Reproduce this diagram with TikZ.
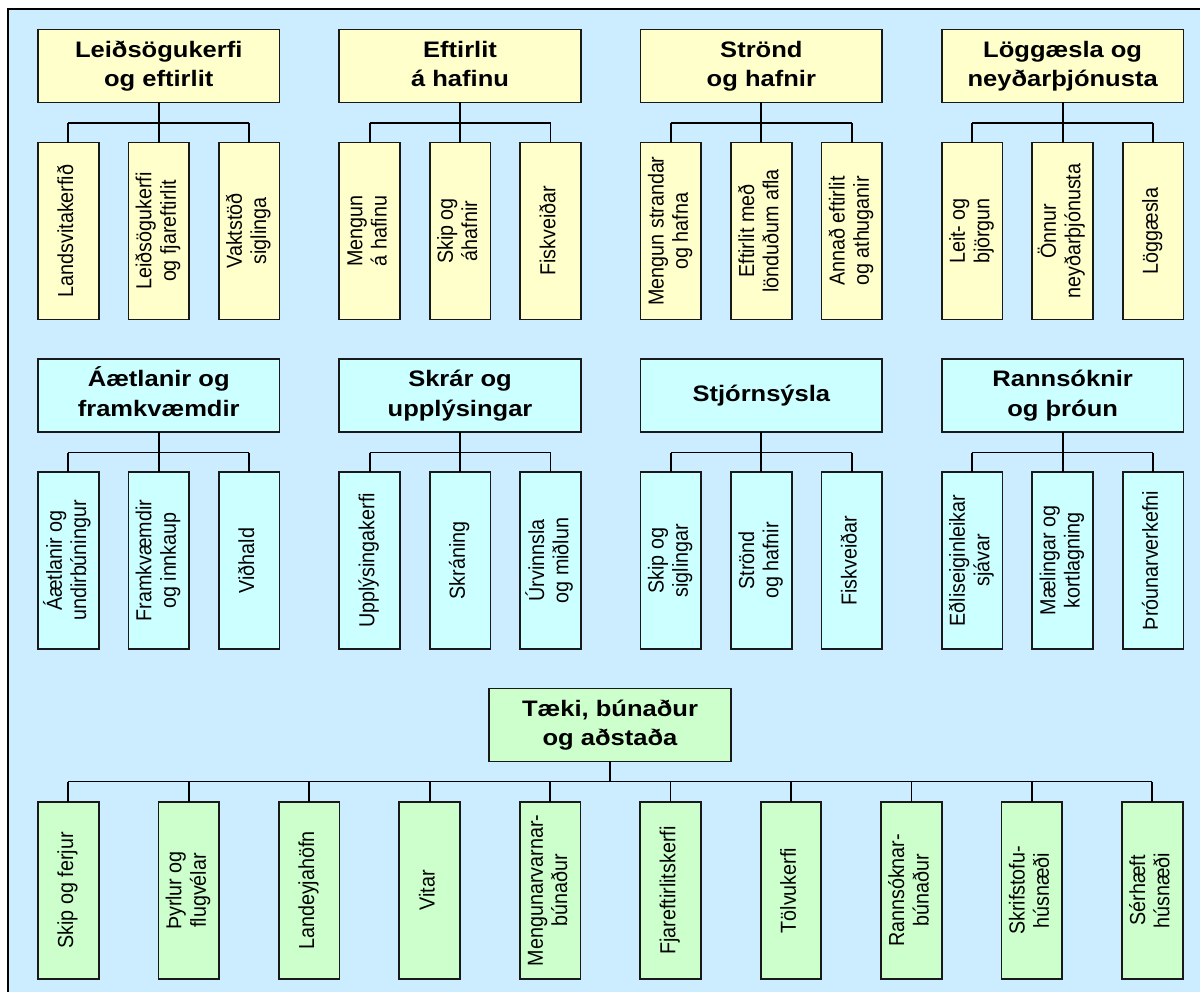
\documentclass[tikz,border=0pt]{standalone}
\usepackage{fontspec}
\setmainfont{Liberation Sans}
\usepackage{graphicx}

\definecolor{sea}{HTML}{CCECFF}
\definecolor{sand}{HTML}{FFFFCC}
\definecolor{ice}{HTML}{CCFFFF}
\definecolor{mint}{HTML}{CCFFCC}

% bold heading text, two centred lines, slightly widened
\newcommand\hd[1]{\scalebox{1.14}[1]{\fontsize{16.8}{22}\selectfont\bfseries\begin{tabular}{@{}c@{}}#1\end{tabular}}}
% leaf text turned to run bottom to top
\newcommand\vt[1]{\scalebox{1.1}[1]{\rotatebox{90}{\fontsize{14.8}{16.6}\selectfont\begin{tabular}{@{}c@{}}#1\end{tabular}}}}

\tikzset{
  box/.style={draw=black!90, line width=1.3pt, inner sep=0pt, outer sep=0pt},
  head/.style={box, minimum width=181.2pt, minimum height=54.6pt},
  leaf/.style={box, minimum width=45.5pt, minimum height=132.6pt},
  link/.style={line width=1.35pt, black},
}

\begin{document}
\begin{tikzpicture}[x=0.75pt, y=-0.75pt]
\useasboundingbox (0,0) rectangle (1200,992);
% backdrop with its frame on the left and top
\fill[sea] (8,9) rectangle (1200,992);
\draw[line width=1.5pt] (8,992) -- (8,9) -- (1200,9);

% ---------- first row ----------
\node[head, fill=sand] (h1) at (158.75,66) {\hd{Leiðsögukerfi\\og eftirlit}};
\node[leaf, fill=sand] (h1a) at (68.3,231)   {\vt{Landsvitakerfið}};
\node[leaf, fill=sand] (h1b) at (158.75,231) {\vt{Leiðsögukerfi\\og fjareftirlit}};
\node[leaf, fill=sand] (h1c) at (249.2,231)  {\vt{Vaktstöð\\siglinga}};

\node[head, fill=sand] (h2) at (460.05,66) {\hd{Eftirlit\\á hafinu}};
\node[leaf, fill=sand] (h2a) at (369.6,231)  {\vt{Mengun\\á hafinu}};
\node[leaf, fill=sand] (h2b) at (460.05,231) {\vt{Skip og\\áhafnir}};
\node[leaf, fill=sand] (h2c) at (550.5,231)  {\vt{Fiskveiðar}};

\node[head, fill=sand] (h3) at (761.35,66) {\hd{Strönd\\og hafnir}};
\node[leaf, fill=sand] (h3a) at (670.9,231)  {\vt{Mengun strandar\\og hafna}};
\node[leaf, fill=sand] (h3b) at (761.35,231) {\vt{Eftirlit með\\lönduðum afla}};
\node[leaf, fill=sand] (h3c) at (851.8,231)  {\vt{Annað eftirlit\\og athuganir}};

\node[head, fill=sand] (h4) at (1062.65,66) {\hd{Löggæsla og\\neyðarþjónusta}};
\node[leaf, fill=sand] (h4a) at (972.2,231)   {\vt{Leit- og\\björgun}};
\node[leaf, fill=sand] (h4b) at (1062.65,231) {\vt{Önnur\\neyðarþjónusta}};
\node[leaf, fill=sand] (h4c) at (1153.1,231)  {\vt{Löggæsla}};

% ---------- second row ----------
\node[head, fill=ice] (k1) at (158.75,395.5) {\hd{Áætlanir og\\framkvæmdir}};
\node[leaf, fill=ice] (k1a) at (68.3,560.5)   {\vt{Áætlanir og\\undirbúningur}};
\node[leaf, fill=ice] (k1b) at (158.75,560.5) {\vt{Framkvæmdir\\og innkaup}};
\node[leaf, fill=ice] (k1c) at (249.2,560.5)  {\vt{Viðhald}};

\node[head, fill=ice] (k2) at (460.05,395.5) {\hd{Skrár og\\upplýsingar}};
\node[leaf, fill=ice] (k2a) at (369.6,560.5)  {\vt{Upplýsingakerfi}};
\node[leaf, fill=ice] (k2b) at (460.05,560.5) {\vt{Skráning}};
\node[leaf, fill=ice] (k2c) at (550.5,560.5)  {\vt{Úrvinnsla\\og miðlun}};

\node[head, fill=ice] (k3) at (761.35,395.5) {\hd{Stjórnsýsla}};
\node[leaf, fill=ice] (k3a) at (670.9,560.5)  {\vt{Skip og\\siglingar}};
\node[leaf, fill=ice] (k3b) at (761.35,560.5) {\vt{Strönd\\og hafnir}};
\node[leaf, fill=ice] (k3c) at (851.8,560.5)  {\vt{Fiskveiðar}};

\node[head, fill=ice] (k4) at (1062.65,395.5) {\hd{Rannsóknir\\og þróun}};
\node[leaf, fill=ice] (k4a) at (972.2,560.5)   {\vt{Eðliseiginleikar\\sjávar}};
\node[leaf, fill=ice] (k4b) at (1062.65,560.5) {\vt{Mælingar og\\kortlagning}};
\node[leaf, fill=ice] (k4c) at (1153.1,560.5)  {\vt{Þróunarverkefni}};

% ---------- third row ----------
\node[head, fill=mint] (t) at (610,725) {\hd{Tæki, búnaður\\og aðstaða}};
\node[leaf, fill=mint] (t1)  at (68.3,890.5)    {\vt{Skip og ferjur}};
\node[leaf, fill=mint] (t2)  at (188.75,890.5)  {\vt{Þyrlur og\\flugvélar}};
\node[leaf, fill=mint] (t3)  at (309.2,890.5)   {\vt{Landeyjahöfn}};
\node[leaf, fill=mint] (t4)  at (429.65,890.5)  {\vt{Vitar}};
\node[leaf, fill=mint] (t5)  at (550.1,890.5)   {\vt{Mengunarvarnar-\\búnaður}};
\node[leaf, fill=mint] (t6)  at (670.55,890.5)  {\vt{Fjareftirlitskerfi}};
\node[leaf, fill=mint] (t7)  at (791,890.5)     {\vt{Tölvukerfi}};
\node[leaf, fill=mint] (t8)  at (911.45,890.5)  {\vt{Rannsóknar-\\búnaður}};
\node[leaf, fill=mint] (t9)  at (1031.9,890.5)  {\vt{Skrifstofu-\\húsnæði}};
\node[leaf, fill=mint] (t10) at (1152.35,890.5) {\vt{Sérhæft\\húsnæði}};

% ---------- tree connectors ----------
\foreach \p/\y in {h1/123,h2/123,h3/123,h4/123,k1/452.5,k2/452.5,k3/452.5,k4/452.5}{
  \coordinate (\p j) at (\p.south |- 0,\y);
  \draw[link] (\p.south) -- (\p j);
  \draw[link] (\p j -| \p a.north) -- (\p j -| \p c.north);
  \foreach \c in {a,b,c}
    \draw[link] (\p j -| \p\c.north) -- (\p\c.north);
}
\coordinate (tj) at (t.south |- 0,781.5);
\draw[link] (t.south) -- (tj);
\draw[link] (tj -| t1.north) -- (tj -| t10.north);
\foreach \c in {1,...,10}
  \draw[link] (tj -| t\c.north) -- (t\c.north);
\end{tikzpicture}
\end{document}
